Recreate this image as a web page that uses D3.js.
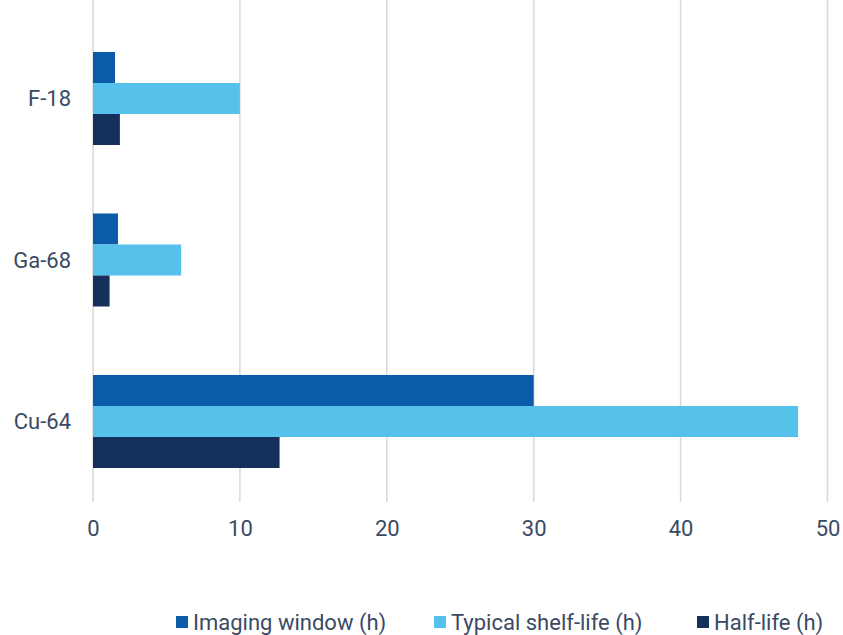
<!DOCTYPE html>
<html>
<head>
<meta charset="utf-8">
<script src="https://cdn.jsdelivr.net/npm/d3@7"></script>
<style>
  body { margin: 0; background: #fff; }
  svg { display: block; font-family: Roboto, "Noto Sans", sans-serif; }
</style>
</head>
<body>
<div id="c1"></div>
<script>
// Data
var isotopes = ["F-18", "Ga-68", "Cu-64"];
var seriesNames = ["Imaging window (h)", "Typical shelf-life (h)", "Half-life (h)"];
var imagingWindow = [1.5, 1.7, 30];
var shelfLife = [10, 6, 48];
var halfLife = [1.83, 1.13, 12.7];
var xTicks = [0, 10, 20, 30, 40, 50];

var colors = ["#0a5ca8", "#56c1eb", "#15305a"];
var w = 843, h = 635;

var svg = d3.select("#c1").append("svg")
    .attr("width", w)
    .attr("height", h);

var x = d3.scaleLinear().domain([0, 50]).range([93, 827.5]);
var y = d3.scaleBand().domain(isotopes).range([17.75, 502.25])
    .paddingInner(0.424).paddingOuter(0.212);
var ySub = d3.scaleBand().domain(seriesNames).range([0, y.bandwidth()]);

// gridlines
svg.append("g")
    .selectAll("line")
    .data(xTicks)
    .enter()
    .append("line")
    .attr("x1", function (d) { return x(d); })
    .attr("x2", function (d) { return x(d); })
    .attr("y1", 0)
    .attr("y2", 502)
    .attr("stroke", "#d9d9d9")
    .attr("stroke-width", 1.5);

// tick labels
var xAxis = svg.append("g")
    .attr("transform", "translate(0,520)")
    .call(d3.axisBottom(x).tickValues(xTicks).tickSize(0).tickPadding(0));
xAxis.select(".domain").remove();
xAxis.selectAll("text")
    .attr("dy", "0.71em")
    .attr("fill", "#3b4a64")
    .style("font-size", "22px")
    .style("font-family", "Roboto, sans-serif");

// bars
var rows = isotopes.map(function (c, i) {
    return [imagingWindow[i], shelfLife[i], halfLife[i]].map(function (v, j) {
        return { cat: c, series: seriesNames[j], value: v, color: colors[j] };
    });
});

svg.append("g")
    .selectAll("g")
    .data(rows)
    .enter()
    .append("g")
    .attr("transform", function (d) { return "translate(0," + y(d[0].cat) + ")"; })
    .selectAll("rect")
    .data(function (d) { return d; })
    .enter()
    .append("rect")
    .attr("x", x(0))
    .attr("y", function (d) { return ySub(d.series); })
    .attr("width", function (d) { return x(d.value) - x(0); })
    .attr("height", ySub.bandwidth())
    .attr("fill", function (d) { return d.color; });

// category labels
svg.append("g")
    .selectAll("text")
    .data(isotopes)
    .enter()
    .append("text")
    .attr("x", 71)
    .attr("y", function (d) { return y(d) + y.bandwidth() / 2; })
    .attr("dy", "0.35em")
    .attr("text-anchor", "end")
    .attr("fill", "#3b4a64")
    .style("font-size", "22px")
    .text(function (d) { return d; });

// legend
var legendX = [176, 434, 697];
var legend = svg.append("g")
    .selectAll("g")
    .data(seriesNames)
    .enter()
    .append("g")
    .attr("transform", function (d, i) { return "translate(" + legendX[i] + ",622)"; });

legend.append("rect")
    .attr("x", 0)
    .attr("y", -6)
    .attr("width", 12)
    .attr("height", 12)
    .attr("fill", function (d, i) { return colors[i]; });

legend.append("text")
    .attr("x", 17)
    .attr("y", 0)
    .attr("dy", "0.35em")
    .attr("fill", "#3b4a64")
    .style("font-size", "22px")
    .text(function (d) { return d; });
</script>
</body>
</html>
